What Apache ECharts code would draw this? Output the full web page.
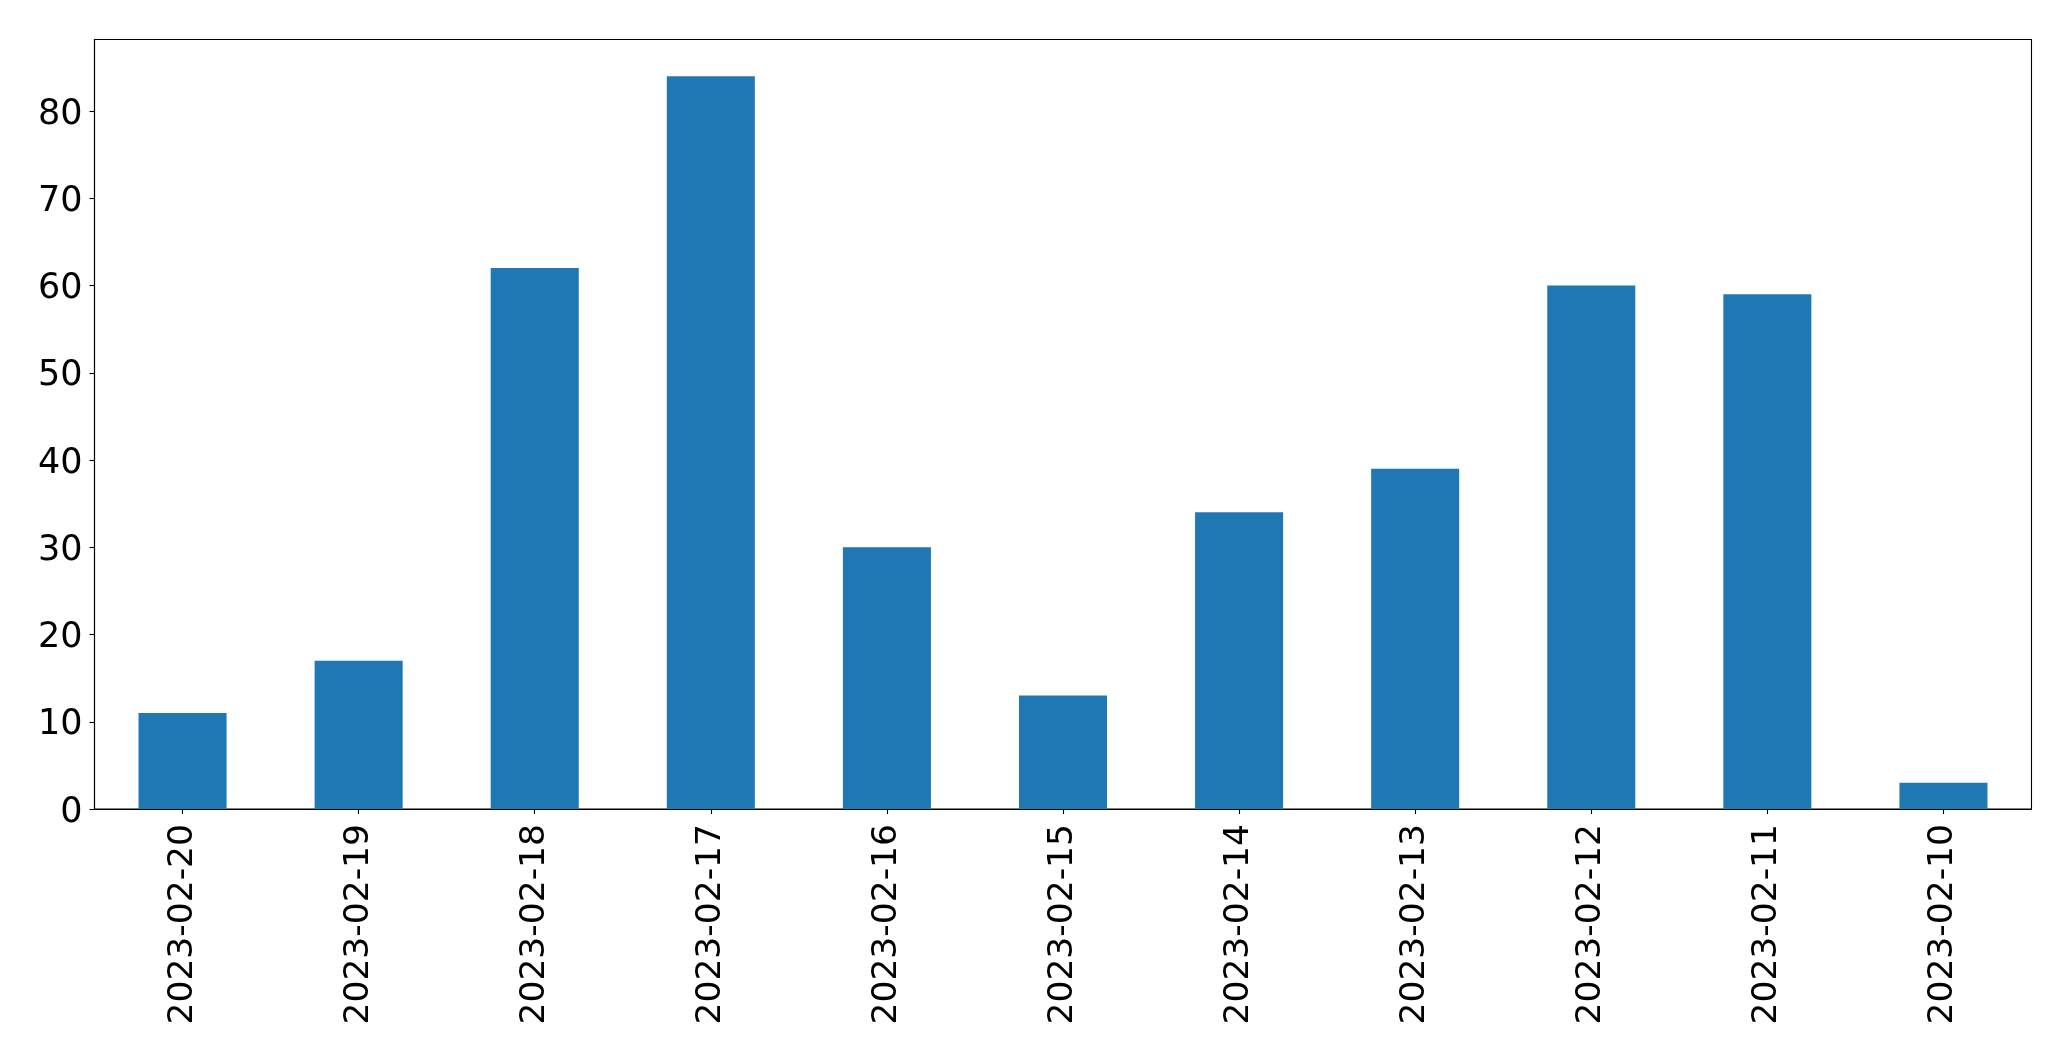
<!DOCTYPE html>
<html>
<head>
<meta charset="utf-8">
<style>
html,body{margin:0;padding:0;background:#fff;}
#chart{width:2071px;height:1061px;}
</style>
<script src="https://cdn.jsdelivr.net/npm/echarts@6/dist/echarts.min.js"></script>
</head>
<body>
<div id="chart"></div>
<script>
const categories = ['2023-02-20','2023-02-19','2023-02-18','2023-02-17','2023-02-16','2023-02-15','2023-02-14','2023-02-13','2023-02-12','2023-02-11','2023-02-10'];
const values = [11, 17, 62, 84, 30, 13, 34, 39, 60, 59, 3];
const yTicks = [0, 10, 20, 30, 40, 50, 60, 70, 80];

const chart = echarts.init(document.getElementById('chart'), null, {renderer: 'canvas'});
const font = 'DejaVu Sans';
chart.setOption({
  animation: false,
  backgroundColor: '#ffffff',
  grid: {
    left: 94.5, top: 39.5, right: 39.5, bottom: 252,
    show: true, borderColor: '#000', borderWidth: 1.1, backgroundColor: 'transparent'
  },
  xAxis: {
    type: 'category',
    data: categories,
    boundaryGap: true,
    axisLine: {show: true, lineStyle: {color: '#000', width: 1.1}},
    axisTick: {show: true, alignWithLabel: true, length: 5, lineStyle: {color: '#000', width: 1.1}},
    axisLabel: {rotate: 90, margin: 15, color: '#000', fontFamily: font, fontSize: 34.5, interval: 0},
    splitLine: {show: false}
  },
  yAxis: {
    type: 'value',
    min: 0,
    max: 88.2,
    interval: 10,
    axisLine: {show: true, lineStyle: {color: '#000', width: 1.1}},
    axisTick: {show: true, length: 5, lineStyle: {color: '#000', width: 1.1}, customValues: yTicks},
    axisLabel: {
      color: '#000', fontFamily: font, fontSize: 35, margin: 12, customValues: yTicks,
      formatter: '{a|{value}}',
      rich: {a: {color: '#000', fontFamily: font, fontSize: 35, padding: [7, 0, 0, 0]}}
    },
    splitLine: {show: false}
  },
  series: [{
    type: 'bar',
    data: values,
    barWidth: '50%',
    itemStyle: {color: '#1f77b4'}
  }]
});
</script>
</body>
</html>
